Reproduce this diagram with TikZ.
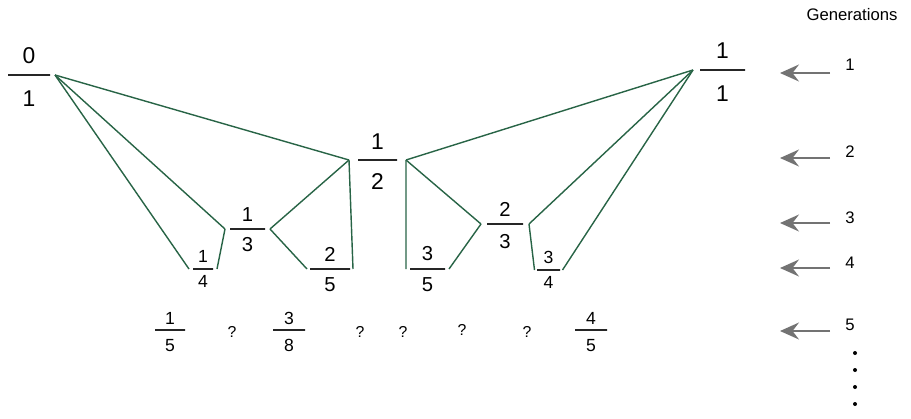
\documentclass[tikz,border=0pt]{standalone}
\usepackage{fontspec}
\setmainfont{Liberation Sans}
\usetikzlibrary{positioning,arrows.meta}
\definecolor{treegreen}{RGB}{40,100,70}
\definecolor{arrowgray}{RGB}{115,115,115}

\begin{document}
\begin{tikzpicture}[
    fbar/.style={
        draw=black!85, line width=0.8pt,
        minimum width=#1, minimum height=0pt,
        inner sep=0pt, outer ysep=0pt, outer xsep=0.1cm
    },
    bignum/.style={font=\fontsize{13}{15}\selectfont, inner sep=0pt},
    midnum/.style={font=\fontsize{11.5}{13}\selectfont, inner sep=0pt},
    smallnum/.style={font=\fontsize{10}{12}\selectfont, inner sep=0pt},
    qmark/.style={font=\fontsize{9}{10}\selectfont, inner sep=0pt},
    link/.style={draw=treegreen, line width=0.8pt},
    genarrow/.style={draw=arrowgray, line width=0.9pt,
        -{Stealth[length=0.38cm, width=0.34cm, inset=0.13cm]}},
    gennum/.style={font=\fontsize{9.5}{11}\selectfont, inner sep=0pt},
    gendot/.style={circle, fill=black, inner sep=0pt, minimum size=0.08cm}
]
\useasboundingbox (0,0) rectangle (18.22,8.36);

%% ── Generácia 1 ──────────────────────────────────────────────────
\node[fbar=0.84cm] (b01) at (0.58, 6.86) {};
\node[bignum, above=0.22cm of b01] (n01) {0};
\node[bignum, below=0.30cm of b01] (d01) {1};

\node[fbar=0.90cm, outer xsep=0.14cm] (b11) at (14.45, 6.96) {};
\node[bignum, above=0.22cm of b11] (n11) {1};
\node[bignum, below=0.30cm of b11] (d11) {1};

%% ── Generácia 2 ──────────────────────────────────────────────────
\node[fbar=0.78cm, outer xsep=0.18cm] (b12) at (7.55, 5.16) {};
\node[bignum, above=0.20cm of b12] (n12) {1};
\node[bignum, below=0.26cm of b12] (d12) {2};

%% ── Generácia 3 ──────────────────────────────────────────────────
\node[fbar=0.70cm] (b13) at (4.95, 3.78) {};
\node[midnum, above=0.15cm of b13] (n13) {1};
\node[midnum, below=0.17cm of b13] (d13) {3};

\node[fbar=0.72cm, outer xsep=0.12cm] (b23) at (10.10, 3.88) {};
\node[midnum, above=0.15cm of b23] (n23) {2};
\node[midnum, below=0.20cm of b23] (d23) {3};

%% ── Generácia 4 ──────────────────────────────────────────────────
\node[fbar=0.40cm, outer xsep=0.08cm] (b14) at (4.06, 2.98) {};
\node[smallnum, above=0.12cm of b14] (n14) {1};
\node[smallnum, below=0.13cm of b14] (d14) {4};

\node[fbar=0.80cm, outer xsep=0.06cm] (b25) at (6.60, 2.98) {};
\node[midnum, above=0.15cm of b25] (n25) {2};
\node[midnum, below=0.17cm of b25] (d25) {5};

\node[fbar=0.70cm, outer xsep=0.08cm] (b35) at (8.55, 2.98) {};
\node[midnum, above=0.15cm of b35] (n35) {3};
\node[midnum, below=0.17cm of b35] (d35) {5};

\node[fbar=0.46cm, outer xsep=0.05cm] (b34) at (10.97, 2.96) {};
\node[smallnum, above=0.12cm of b34] (n34) {3};
\node[smallnum, below=0.13cm of b34] (d34) {4};

%% ── Spojnice ─────────────────────────────────────────────────────
\draw[link] (b01.east) -- (b12.west);
\draw[link] (b01.east) -- (b13.west);
\draw[link] (b01.east) -- (b14.west);
\draw[link] (b13.west) -- (b14.east);
\draw[link] (b12.west) -- (b13.east);
\draw[link] (b12.west) -- (b25.east);
\draw[link] (b13.east) -- (b25.west);

\draw[link] (b11.west) -- (b12.east);
\draw[link] (b11.west) -- (b23.east);
\draw[link] (b11.west) -- (b34.east);
\draw[link] (b12.east) -- (b35.west);
\draw[link] (b12.east) -- (b23.west);
\draw[link] (b23.west) -- (b35.east);
\draw[link] (b23.east) -- (b34.west);

%% ── Generácia 5 ──────────────────────────────────────────────────
\node[fbar=0.60cm] (b15) at (3.40, 1.76) {};
\node[smallnum, above=0.10cm of b15] (n15) {1};
\node[smallnum, below=0.18cm of b15] (d15) {5};

\node[fbar=0.64cm] (b38) at (5.78, 1.76) {};
\node[smallnum, above=0.10cm of b38] (n38) {3};
\node[smallnum, below=0.18cm of b38] (d38) {8};

\node[fbar=0.64cm] (b45) at (11.82, 1.76) {};
\node[smallnum, above=0.10cm of b45] (n45) {4};
\node[smallnum, below=0.18cm of b45] (d45) {5};

\node[qmark] (q1) at (4.64, 1.72) {?};
\node[qmark] (q2) at (7.20, 1.72) {?};
\node[qmark] (q3) at (8.06, 1.72) {?};
\node[qmark] (q4) at (9.24, 1.76) {?};
\node[qmark] (q5) at (10.54, 1.72) {?};

%% ── Generácie ────────────────────────────────────────────────────
\node[gennum] (gtitle) at (17.04, 8.06) {Generations};

\coordinate (s1) at (16.60, 6.90);  \coordinate (e1) at (15.60, 6.90);
\coordinate (s2) at (16.60, 5.20);  \coordinate (e2) at (15.60, 5.20);
\coordinate (s3) at (16.60, 3.90);  \coordinate (e3) at (15.60, 3.90);
\coordinate (s4) at (16.60, 3.00);  \coordinate (e4) at (15.60, 3.00);
\coordinate (s5) at (16.60, 1.74);  \coordinate (e5) at (15.60, 1.74);

\draw[genarrow] (s1) -- (e1);
\draw[genarrow] (s2) -- (e2);
\draw[genarrow] (s3) -- (e3);
\draw[genarrow] (s4) -- (e4);
\draw[genarrow] (s5) -- (e5);

\node[gennum] (g1) at (17.00, 7.06) {1};
\node[gennum] (g2) at (17.00, 5.32) {2};
\node[gennum] (g3) at (17.00, 4.00) {3};
\node[gennum] (g4) at (17.00, 3.10) {4};
\node[gennum] (g5) at (17.00, 1.86) {5};

\node[gendot] (dot1) at (17.10, 1.30) {};
\node[gendot] (dot2) at (17.10, 0.96) {};
\node[gendot] (dot3) at (17.10, 0.62) {};
\node[gendot] (dot4) at (17.10, 0.28) {};

\end{tikzpicture}
\end{document}
